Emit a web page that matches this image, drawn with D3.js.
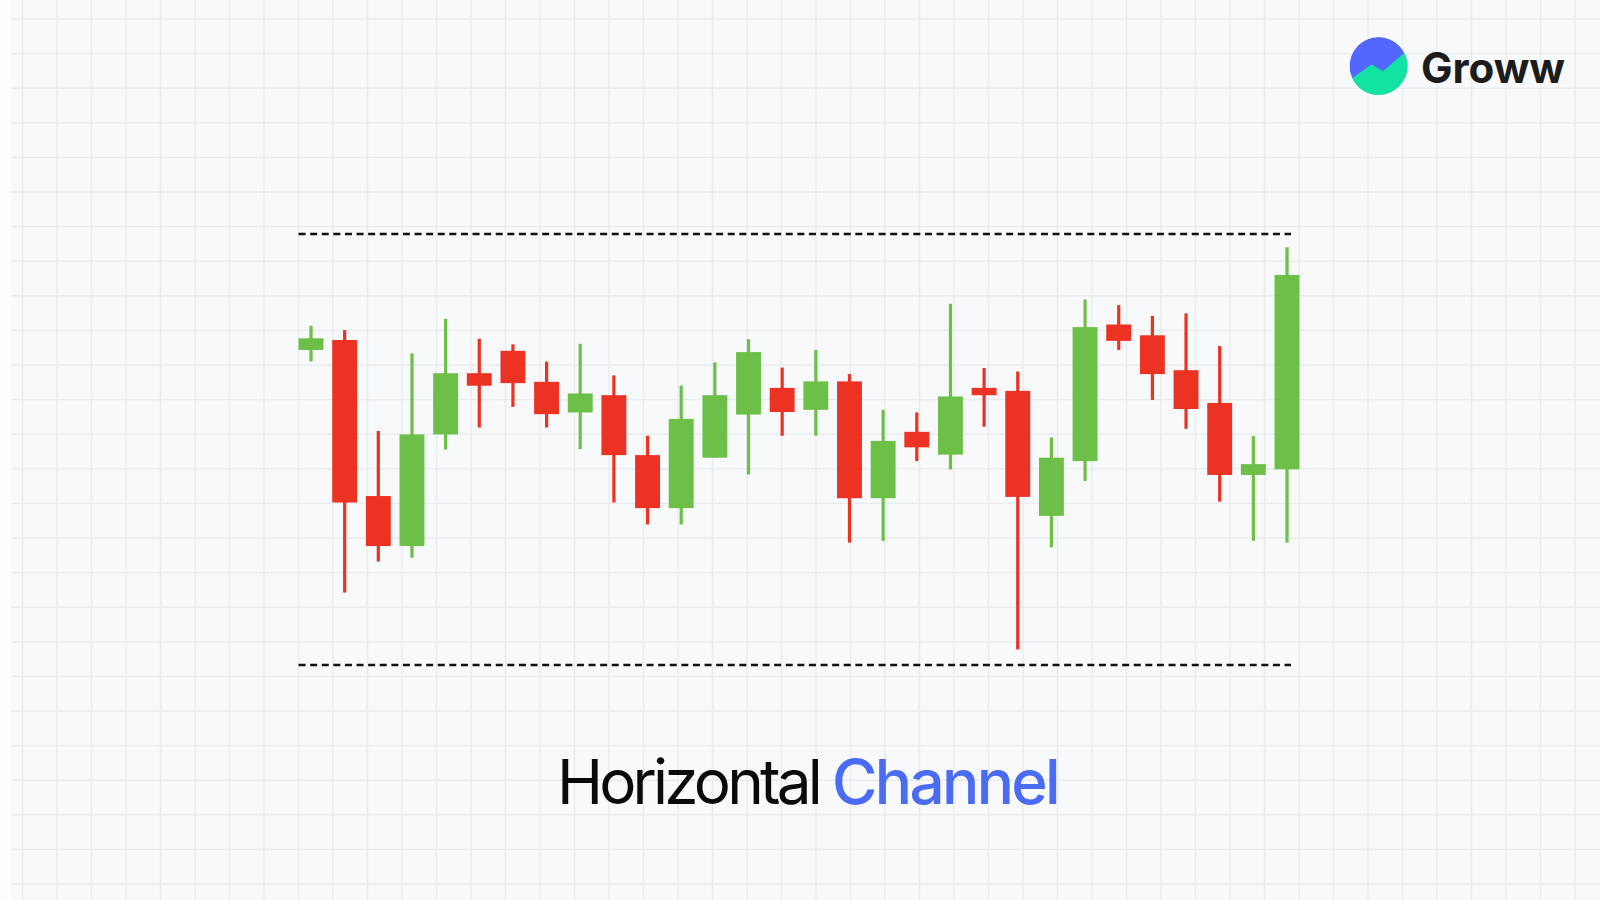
<!DOCTYPE html>
<html>
<head>
<meta charset="utf-8">
<script src="https://cdn.jsdelivr.net/npm/d3@7"></script>
<style>
  html, body { margin: 0; padding: 0; background: #f8f9fa; }
  svg { display: block; }
</style>
</head>
<body>
<script>
// candle values (support = 100, resistance = 200)
var opens  = [173.1, 175.4, 139.2, 127.6, 153.5, 167.7, 172.9, 165.7, 158.6, 162.6,
              148.7, 136.4, 148.1, 158.1, 164.3, 159.2, 165.8, 138.7, 154.1, 148.8,
              164.3, 163.6, 134.6, 147.3, 179.0, 176.5, 168.4, 160.8, 144.1, 145.4];
var highs  = [178.7, 177.7, 154.3, 172.3, 180.3, 175.7, 174.4, 170.4, 174.5, 167.2,
              153.2, 164.8, 170.2, 175.6, 169.0, 173.1, 167.5, 159.2, 158.6, 183.8,
              168.9, 168.1, 152.8, 184.8, 183.5, 181.0, 181.6, 174.0, 153.1, 196.9];
var lows   = [170.4, 116.8, 124.0, 124.9, 150.0, 155.1, 159.9, 155.1, 150.1, 137.7,
              132.6, 132.6, 148.1, 144.2, 153.2, 153.2, 128.4, 128.8, 147.3, 145.4,
              155.3, 103.6, 127.3, 142.7, 173.1, 161.5, 154.8, 137.9, 128.8, 128.4];
var closes = [175.8, 137.7, 127.6, 153.5, 167.7, 164.8, 165.4, 158.2, 163.0, 148.7,
              136.4, 157.1, 162.6, 172.6, 158.7, 165.8, 138.7, 152.0, 150.5, 162.3,
              162.6, 139.0, 148.1, 178.4, 175.2, 167.5, 159.4, 144.1, 146.6, 190.5];
var channelLevels = [200, 100];
var titleWords = ["Horizontal", "Channel"];
var brandName = "Groww";

var W = 1600, H = 900;
var UP = "#6cbf47", DOWN = "#ec3223";

var svg = d3.select("body").append("svg").attr("width", W).attr("height", H);

/* paper background with faint grid */
svg.append("rect").attr("width", W).attr("height", H).attr("fill", "#f8f9fa");
var grid = svg.append("g").attr("stroke", "#e8ebef").attr("stroke-width", 1.4);
grid.selectAll("line.v").data(d3.range(22.5, W, 34.5)).enter().append("line")
  .attr("x1", function(d){ return d; }).attr("x2", function(d){ return d; })
  .attr("y1", 0).attr("y2", H);
grid.selectAll("line.h").data(d3.range(19, H, 34.6)).enter().append("line")
  .attr("y1", function(d){ return d; }).attr("y2", function(d){ return d; })
  .attr("x1", 0).attr("x2", W);
svg.append("rect").attr("width", 11).attr("height", H).attr("fill", "#fdfdfd");

/* scales */
var idx = d3.range(opens.length);
var x = d3.scalePoint().domain(idx).range([311, 1287]);
var y = d3.scaleLinear().domain([100, 200]).range([665, 234]);
var bodyW = x.step() * 0.74;

/* channel lines */
svg.selectAll("line.channel").data(channelLevels).enter().append("line")
  .classed("channel", true)
  .attr("x1", x(0) - bodyW / 2).attr("x2", x(idx.length - 1) + 4)
  .attr("y1", function(d){ return y(d); }).attr("y2", function(d){ return y(d); })
  .attr("stroke", "#111").attr("stroke-width", 2.6)
  .attr("stroke-dasharray", "7,4.6");

/* candles */
var candle = svg.selectAll("g.candle").data(idx).enter().append("g")
  .classed("candle", true)
  .attr("fill", function(i){ return closes[i] >= opens[i] ? UP : DOWN; });
candle.append("rect")
  .attr("x", function(i){ return x(i) - 1.6; })
  .attr("width", 3.2)
  .attr("y", function(i){ return y(highs[i]); })
  .attr("height", function(i){ return y(lows[i]) - y(highs[i]); });
candle.append("rect")
  .attr("x", function(i){ return x(i) - bodyW / 2; })
  .attr("width", bodyW)
  .attr("y", function(i){ return y(Math.max(opens[i], closes[i])); })
  .attr("height", function(i){ return Math.max(2, Math.abs(y(opens[i]) - y(closes[i]))); });

/* fit a text to a width by tightening its tracking */
function fitWidth(sel, target){
  var n = sel.text().length;
  var natural = sel.node().getComputedTextLength();
  sel.style("letter-spacing", ((target - natural) / n) + "px");
}

/* title */
var titleFont = "Inter, 'Open Sans', sans-serif";
var t1 = svg.append("text")
  .attr("x", 557).attr("y", 804)
  .style("font-family", titleFont).style("font-size", "62px").style("font-weight", 400)
  .attr("fill", "#0a0a0a")
  .text(titleWords[0]);
fitWidth(t1, 262);
var t2 = svg.append("text")
  .attr("x", 832).attr("y", 804)
  .style("font-family", titleFont).style("font-size", "62px").style("font-weight", 500)
  .attr("fill", "#4a6cf5")
  .text(titleWords[1]);
fitWidth(t2, 226);

/* logo */
var logo = svg.append("g").attr("transform", "translate(1378.5,66)");
var r = 29;
logo.append("clipPath").attr("id", "logo-clip").append("circle").attr("r", r);
var lg = logo.append("g").attr("clip-path", "url(#logo-clip)");
lg.append("circle").attr("r", r).attr("fill", "#5367ff");
var zig = [[-1.1, 0.52], [-0.94, 0.44], [-0.24, -0.05], [0.16, 0.17], [0.88, -0.44], [1.1, -0.56], [1.1, 1.1], [-1.1, 1.1]];
lg.append("path")
  .attr("d", d3.line()(zig.map(function(p){ return [p[0] * r, p[1] * r]; })) + "Z")
  .attr("fill", "#12e3a2");
var brand = svg.append("text")
  .attr("x", 1421).attr("y", 83)
  .style("font-family", "Inter, 'Open Sans', sans-serif")
  .style("font-size", "42px").style("font-weight", 700)
  .attr("fill", "#1c1c1c")
  .text(brandName);
fitWidth(brand, 144);
</script>
</body>
</html>
